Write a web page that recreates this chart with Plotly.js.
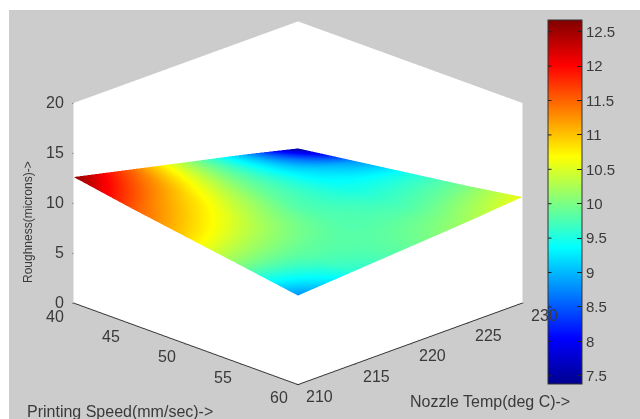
<!DOCTYPE html>
<html><head><meta charset="utf-8">
<script src="https://cdn.plot.ly/plotly-3.0.1.min.js"></script>
<style>html,body{margin:0;padding:0;background:#fff;overflow:hidden}
#p{position:absolute;left:9px;top:10px;width:631px;height:409px;filter:blur(0.5px)}</style></head>
<body><div id="p"></div>
<script>
const speeds=[40,45,50,55,60];
const temps=[210,215,220,225,230];
const roughTicks=[0,5,10,15,20];
const heights=[
[12.6,11.6,10.7,9.8,8.9],
[11.3,10.7,10.1,9.5,9.3],
[10.0,9.8,9.6,9.5,9.7],
[8.7,8.9,9.2,9.5,10.1],
[7.3,8.1,8.9,9.7,10.6]];
const colorValues=[
[12.6,11.6,10.9,10.0,8.8],
[11.5,10.9,10.4,9.9,9.6],
[10.2,10.0,9.8,9.8,9.9],
[9.0,9.3,9.5,9.8,10.2],
[7.4,8.8,9.5,10.0,10.6]];
const barTicks=[7.5,8,8.5,9,9.5,10,10.5,11,11.5,12,12.5];
const barText=['7.5','8','8.5','9','9.5','10','10.5','11','11.5','12','12.5'];
const cMin=7.38,cMax=12.67;
const jet=[[0,'rgb(0,0,143)'],[0.125,'rgb(0,0,255)'],[0.375,'rgb(0,255,255)'],[0.625,'rgb(255,255,0)'],[0.875,'rgb(255,0,0)'],[1,'rgb(128,0,0)']];
const font={family:'Liberation Sans, Arial, sans-serif',size:16,color:'#3a3a3a'};
const axis=(extra)=>Object.assign({title:{text:''},showgrid:false,zeroline:false,showspikes:false,showbackground:true,backgroundcolor:'#ffffff',
 showline:true,linecolor:'#333',linewidth:2,ticks:'outside',ticklen:2,tickcolor:'#333',showticklabels:false},extra);
const trace={type:'surface',x:speeds,y:temps,z:heights,surfacecolor:colorValues,cmin:cMin,cmax:cMax,colorscale:jet,hoverinfo:'skip',
 lighting:{ambient:1,diffuse:0,specular:0,fresnel:0,roughness:1},
 contours:{x:{show:false},y:{show:false},z:{show:false}},
 colorbar:{lenmode:'pixels',len:364,thicknessmode:'pixels',thickness:34,x:539/631,xanchor:'left',y:1-10/409,yanchor:'top',xpad:0,ypad:0,
  outlinecolor:'#333',outlinewidth:1,ticks:'inside',ticklen:5,tickcolor:'#222',tickvals:barTicks,ticktext:barText,tickfont:Object.assign({},font,{size:15})}};
const sceneNotes=[
 ...speeds.map(v=>({x:v,y:210,z:0,text:String(v),showarrow:false,xshift:-19,yshift:-13,font})),
 ...temps.map(v=>({x:60,y:v,z:0,text:String(v),showarrow:false,xshift:22,yshift:-12,font})),
 ...roughTicks.map(v=>({x:40,y:210,z:v,text:String(v),showarrow:false,xanchor:'right',xshift:-8,yshift:1,font}))];
const barLeftTicks=barTicks.map(v=>({xref:'paper',yref:'paper',x:539/631,y:1-(10+(cMax-v)/(cMax-cMin)*364)/409,ax:5,ay:0,showarrow:true,arrowhead:0,arrowwidth:1,arrowcolor:'#222',standoff:0,text:''}));
const layout={width:631,height:409,margin:{l:0,r:0,t:0,b:0},paper_bgcolor:'#cccccc',showlegend:false,
 scene:{domain:{x:[0,0.916],y:[0.056,1]},aspectmode:'manual',aspectratio:{x:1.645,y:1.645,z:1.112},
  camera:{projection:{type:'orthographic'},eye:{x:1.25,y:-1.25,z:0.69},up:{x:0,y:0,z:1},center:{x:0,y:0,z:0}},
  xaxis:axis({range:[40,60],tickvals:speeds}),
  yaxis:axis({range:[210,230],tickvals:temps}),
  zaxis:axis({range:[0,20],tickvals:roughTicks,showline:false}),
  annotations:sceneNotes},
 annotations:[...barLeftTicks,
 {text:'Printing Speed(mm/sec)->',xref:'paper',yref:'paper',x:16/631,y:1-401/409,xanchor:'left',yanchor:'middle',showarrow:false,font},
 {text:'Nozzle Temp(deg C)->',xref:'paper',yref:'paper',x:399/631,y:1-391/409,xanchor:'left',yanchor:'middle',showarrow:false,font},
 {text:'Roughness(microns)->',xref:'paper',yref:'paper',x:19/631,y:1-212/409,xanchor:'center',yanchor:'middle',textangle:-90,showarrow:false,font:Object.assign({},font,{size:12})}]};
Plotly.newPlot('p',[trace],layout,{displayModeBar:false});
</script></body></html>
